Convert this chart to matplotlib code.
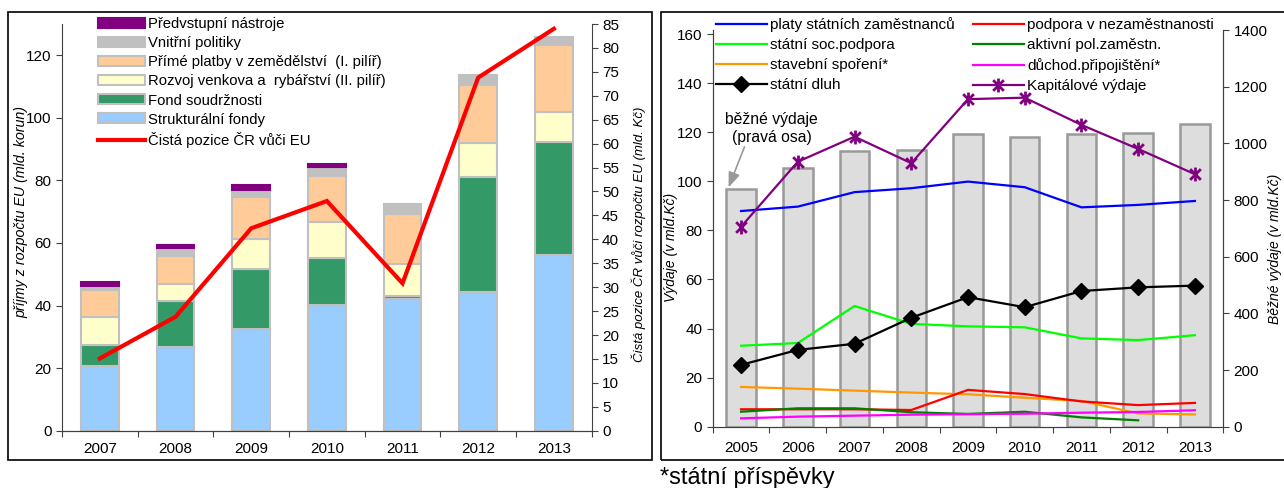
import numpy as np
import matplotlib
matplotlib.use("Agg")
import matplotlib.pyplot as plt
import matplotlib.patches as patches
from matplotlib.path import Path

plt.rcParams['font.family'] = ['Liberation Sans', 'DejaVu Sans']

# ---- left chart: EU budget receipts (mld. korun) ----
years_l = ['2007', '2008', '2009', '2010', '2011', '2012', '2013']
strukturalni = [20.7, 26.8, 32.4, 40.2, 42.0, 44.2, 56.2]
fond_soudrz = [6.6, 14.8, 19.2, 15.0, 1.0, 36.8, 36.0]
rozvoj_venkova = [8.9, 5.4, 9.7, 11.5, 10.4, 11.0, 9.8]
prime_platby = [8.8, 9.0, 13.3, 14.6, 16.0, 18.6, 21.4]
vnitrni_pol = [1.4, 2.4, 2.4, 2.9, 3.2, 3.1, 2.4]
predvstupni = [1.1, 1.0, 1.4, 1.0, 0.0, 0.0, 0.0]
cista_pozice = [15.1, 23.8, 42.3, 48.0, 30.8, 73.8, 84.0]

# ---- right chart: expenditures ----
years_r = ['2005', '2006', '2007', '2008', '2009', '2010', '2011', '2012', '2013']
bezne_vydaje = [839, 912, 973, 977, 1032, 1023, 1032, 1038, 1068]
platy = [87.9, 89.7, 95.6, 97.2, 99.9, 97.6, 89.4, 90.4, 92.0]
soc_podpora = [33.0, 34.1, 49.2, 41.9, 40.9, 40.5, 36.0, 35.3, 37.3]
stavebni = [16.2, 15.5, 14.7, 13.9, 13.2, 11.8, 10.5, 5.4, 5.0]
statni_dluh = [25.2, 31.3, 33.8, 44.4, 52.8, 48.7, 55.3, 56.8, 57.5]
podpora_nezam = [7.1, 7.1, 7.1, 6.8, 15.0, 13.3, 10.3, 8.8, 9.7]
aktivni_pol = [6.1, 7.5, 7.5, 5.9, 5.2, 6.1, 3.8, 2.6, np.nan]
duchod_prip = [3.4, 4.1, 4.5, 4.9, 5.1, 5.3, 5.7, 6.0, 6.7]
kapitalove = [81.5, 108.0, 118.2, 107.4, 133.5, 134.1, 123.0, 113.2, 102.9]

W, H = 1284, 488
fig = plt.figure(figsize=(W / 100, H / 100), dpi=100)

def fx(px):
    return px / W

def fy(py):
    return 1 - py / H

# panel frames
for x0, x1 in [(8, 652), (660.5, 1290)]:
    fig.patches.append(patches.Rectangle((fx(x0), fy(460)), fx(x1 - x0), (460 - 12) / H,
                                         transform=fig.transFigure, fill=False,
                                         edgecolor='black', linewidth=1.2))

spine_col = '#404040'
tick_fs = 11

def style_axis(ax):
    for s in ['left', 'right', 'bottom', 'top']:
        ax.spines[s].set_color(spine_col)
    ax.tick_params(colors=spine_col, labelcolor='black', labelsize=tick_fs, direction='out', length=4)

# ================= LEFT =================
ax1 = fig.add_axes([fx(62), fy(430.7), fx(591.7 - 62), (430.7 - 24) / H])
x = np.arange(len(years_l))
layers = [
    (strukturalni, '#99CCFF', 'Strukturální fondy'),
    (fond_soudrz, '#339966', 'Fond soudržnosti'),
    (rozvoj_venkova, '#FFFFCC', 'Rozvoj venkova a  rybářství (II. pilíř)'),
    (prime_platby, '#FFCC99', 'Přímé platby v zemědělství  (I. pilíř)'),
    (vnitrni_pol, '#C0C0C0', 'Vnitřní politiky'),
    (predvstupni, '#800080', 'Předvstupní nástroje'),
]
bottom = np.zeros(len(x))
bar_handles = []
for vals, col, lab in layers:
    edge = '#800080' if col == '#800080' else '#C0C0C0'
    lws = [1.5 if v > 0 else 0 for v in vals]
    ax1.bar(x, vals, 0.5, bottom=bottom, color=col, edgecolor=edge, linewidth=lws, label=lab)
    bar_handles.append(patches.Patch(facecolor=col, edgecolor=edge, linewidth=1.5, label=lab))
    bottom += np.array(vals)
ax1.set_xlim(-0.5, len(x) - 0.5)
ax1.set_ylim(0, 130)
ax1.set_yticks(np.arange(0, 121, 20))
ax1.set_xticks(np.arange(-0.5, len(x), 1))
ax1.set_xticklabels([])
ax1.set_xticks(x, minor=True)
ax1.set_xticklabels(years_l, minor=True)
ax1.spines['top'].set_visible(False)
ax1.spines['right'].set_visible(False)
style_axis(ax1)
ax1.tick_params(axis='x', which='minor', length=0, pad=8, labelsize=tick_fs)
ax1.set_ylabel('příjmy z rozpočtu EU (mld. korun)', fontsize=10.3, style='italic')
ax1.yaxis.set_label_coords(-0.064, 0.538)

ax1b = ax1.twinx()
line_cp, = ax1b.plot(x, cista_pozice, color='#FF0000', linewidth=3, solid_joinstyle='miter',
                     label='Čistá pozice ČR vůči EU')
ax1b.set_ylim(0, 85)
ax1b.set_yticks(np.arange(0, 86, 5))
ax1b.spines['top'].set_visible(False)
ax1b.spines['left'].set_visible(False)
style_axis(ax1b)
ax1b.set_ylabel('Čistá pozice ČR vůči rozpočtu EU (mld. Kč)', fontsize=9.5, style='italic')
ax1b.yaxis.set_label_coords(1.075, 0.484)

leg_h = [bar_handles[5], bar_handles[4], bar_handles[3], bar_handles[2], bar_handles[1],
         bar_handles[0], line_cp]
leg_l = [h.get_label() for h in leg_h]
fig.legend(leg_h, leg_l, loc='upper left', bbox_to_anchor=(fx(98), fy(17)),
           frameon=False, fontsize=10.7, borderpad=0, borderaxespad=0,
           handlelength=3.15, handleheight=0.67, handletextpad=0.2, labelspacing=0.345)

# ================= RIGHT =================
ax2 = fig.add_axes([fx(712.7), fy(426.7), fx(1223.3 - 712.7), (426.7 - 30.2) / H])
ax2b = ax2.twinx()
xr = np.arange(len(years_r))
ax2b.bar(xr, bezne_vydaje, 0.52, color='#DDDDDD', edgecolor='#999999', linewidth=1.8)
ax2b.set_ylim(0, 1400)
ax2b.set_yticks(np.arange(0, 1401, 200))
ax2.set_zorder(ax2b.get_zorder() + 1)
ax2.patch.set_visible(False)

lw = 1.6
h_platy, = ax2.plot(xr, platy, color='#0000FF', lw=lw, label='platy státních zaměstnanců')
h_soc, = ax2.plot(xr, soc_podpora, color='#00FF00', lw=lw, label='státní soc.podpora')
h_stav, = ax2.plot(xr, stavebni, color='#FF9900', lw=lw, label='stavební spoření*')
h_podp, = ax2.plot(xr, podpora_nezam, color='#FF0000', lw=lw, label='podpora v nezaměstnanosti')
h_akt, = ax2.plot(xr, aktivni_pol, color='#008000', lw=lw, label='aktivní pol.zaměstn.')
h_duch, = ax2.plot(xr, duchod_prip, color='#FF00FF', lw=lw, label='důchod.připojištění*')
h_dluh, = ax2.plot(xr, statni_dluh, color='black', lw=lw, marker='D', ms=8, label='státní dluh')
star = Path([(-1, -1), (1, 1), (-1, 1), (1, -1), (0, -1.3), (0, 1.3)],
            [Path.MOVETO, Path.LINETO, Path.MOVETO, Path.LINETO, Path.MOVETO, Path.LINETO])
h_kap, = ax2.plot(xr, kapitalove, color='#800080', lw=lw, marker=star, ms=10, mew=2,
                  label='Kapitálové výdaje')

ax2.set_xlim(-0.5, len(xr) - 0.5)
ax2.set_ylim(0, 161.6)
ax2.set_yticks(np.arange(0, 161, 20))
ax2.set_xticks(np.arange(-0.5, len(xr), 1))
ax2.set_xticklabels([])
ax2.set_xticks(xr, minor=True)
ax2.set_xticklabels(years_r, minor=True)
style_axis(ax2)
style_axis(ax2b)
ax2.tick_params(axis='x', which='minor', length=0, pad=10, labelsize=tick_fs)
ax2.spines['top'].set_visible(False)
ax2b.spines['top'].set_visible(False)
ax2.set_ylabel('Výdaje (v mld.Kč)', fontsize=10, style='italic')
ax2.yaxis.set_label_coords(-0.068, 0.453)
ax2b.set_ylabel('Běžné výdaje (v mld.Kč)', fontsize=10, style='italic')
ax2b.yaxis.set_label_coords(1.0885, 0.449)

ax2b.annotate('', xy=(-0.22, 845), xytext=(0.06, 988),
              arrowprops=dict(arrowstyle='-|>,head_length=0.9,head_width=0.35',
                              color='#999999', lw=1.2, shrinkA=0, shrinkB=0))
ax2b.text(0.54, 1052, 'běžné výdaje\n(pravá osa)', ha='center', va='center', fontsize=11.3,
          linespacing=1.25)

r_h = [h_platy, h_soc, h_stav, h_dluh, h_podp, h_akt, h_duch, h_kap]
fig.legend(r_h, [h.get_label() for h in r_h],
           ncol=2, loc='upper left', bbox_to_anchor=(fx(716), fy(17.5)), frameon=False,
           fontsize=11, borderpad=0, borderaxespad=0, handlelength=3.33, handletextpad=0.2,
           labelspacing=0.38, columnspacing=1.2)

fig.text(fx(660), fy(478), '*státní příspěvky', fontsize=17, va='center', ha='left')

fig.savefig('out.png', dpi=100)
